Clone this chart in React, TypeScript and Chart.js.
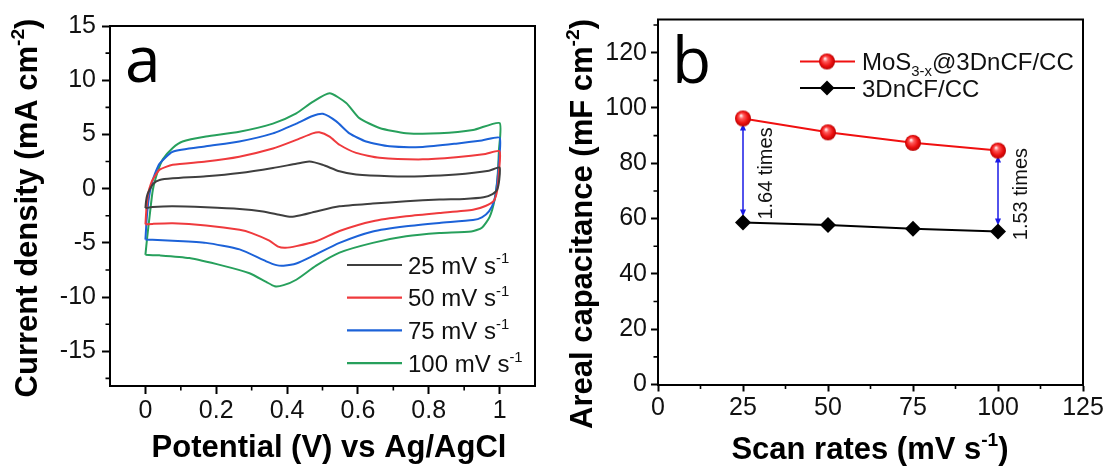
import React, { useEffect, useRef } from "react";
import { Chart, registerables } from "chart.js";

Chart.register(...registerables);

const FONT = '"Liberation Sans", Arial, Helvetica, sans-serif';
const LETTER_FONT = '"Open Sans", "Liberation Sans", sans-serif';

// ---------- Panel a: cyclic voltammograms, points are [potential V, current density mA cm-2]
const cv25: [number, number][] = [
  [0, -1.8], [0.002, -1.1], [0.006, -0.5], [0.012, -0.1], [0.022, 0.45], [0.04, 0.8], [0.077, 0.95],
  [0.171, 1.14], [0.266, 1.44], [0.36, 1.9], [0.426, 2.3], [0.463, 2.5], [0.5, 2.2], [0.548, 1.6],
  [0.595, 1.3], [0.689, 1.15], [0.783, 1.15], [0.877, 1.3], [0.97, 1.65], [1.0, 1.95],
  [0.999, 0.8], [0.993, -0.1], [0.98, -0.5], [0.955, -0.8], [0.9, -0.95], [0.83, -1.0], [0.736, -1.17],
  [0.642, -1.38], [0.548, -1.63], [0.482, -2.1], [0.435, -2.48], [0.411, -2.6], [0.378, -2.4],
  [0.332, -2.1], [0.266, -1.87], [0.171, -1.72], [0.077, -1.63], [0.02, -1.7], [0, -1.8],
];
const cv50: [number, number][] = [
  [0, -3.3], [0.003, -1.8], [0.008, -0.4], [0.015, 0.4], [0.022, 0.9], [0.04, 1.75], [0.077, 2.2],
  [0.171, 2.5], [0.265, 2.95], [0.36, 3.7], [0.426, 4.5], [0.472, 5.1], [0.491, 5.2], [0.52, 4.8],
  [0.548, 4.05], [0.595, 3.3], [0.661, 2.85], [0.783, 2.7], [0.877, 2.9], [0.96, 3.2], [1.0, 3.45],
  [0.998, 1.5], [0.993, -0.2], [0.984, -1.1], [0.96, -1.6], [0.925, -1.95], [0.83, -2.25], [0.736, -2.55],
  [0.642, -3.0], [0.548, -3.9], [0.482, -4.85], [0.426, -5.3], [0.395, -5.45], [0.375, -5.35],
  [0.35, -4.8], [0.3, -4.1], [0.266, -3.8], [0.171, -3.4], [0.077, -3.2], [0.02, -3.25], [0, -3.3],
];
const cv75: [number, number][] = [
  [0, -4.7], [0.004, -2.6], [0.01, -0.8], [0.018, 0.5], [0.026, 1.3], [0.04, 2.3], [0.077, 3.4],
  [0.171, 3.9], [0.265, 4.35], [0.36, 5.1], [0.426, 6.0], [0.472, 6.7], [0.501, 6.9], [0.539, 6.2],
  [0.576, 5.1], [0.623, 4.35], [0.689, 3.9], [0.783, 3.85], [0.877, 4.15], [0.95, 4.45], [1.0, 4.7],
  [0.998, 2.5], [0.993, 0.5], [0.985, -1.1], [0.97, -2.1], [0.95, -2.65], [0.925, -2.9], [0.83, -3.16],
  [0.736, -3.47], [0.642, -3.95], [0.548, -5.0], [0.473, -6.2], [0.426, -6.9], [0.39, -7.1],
  [0.37, -7.05], [0.341, -6.7], [0.266, -5.6], [0.171, -5.0], [0.077, -4.8], [0.02, -4.72], [0, -4.7],
];
const cv100: [number, number][] = [
  [0, -6.1], [0.005, -4.5], [0.012, -2.5], [0.021, -0.1], [0.035, 1.6], [0.049, 2.7], [0.077, 3.75],
  [0.105, 4.35], [0.171, 4.8], [0.265, 5.25], [0.36, 6.0], [0.426, 6.95], [0.472, 8.0], [0.52, 8.8],
  [0.567, 7.9], [0.604, 6.5], [0.661, 5.6], [0.736, 5.12], [0.83, 5.1], [0.925, 5.4], [1.0, 6.05],
  [0.998, 3.5], [0.994, 1.0], [0.986, -1.0], [0.972, -2.6], [0.95, -3.6], [0.92, -3.95], [0.83, -4.1],
  [0.736, -4.4], [0.642, -5.0], [0.548, -5.9], [0.482, -7.1], [0.426, -8.4], [0.39, -8.9], [0.365, -9.0],
  [0.341, -8.6], [0.294, -7.8], [0.218, -7.1], [0.124, -6.4], [0.04, -6.15], [0, -6.1],
];
const cvSeries = [cv25, cv50, cv75, cv100];
const cvRateLabels = ["25", "50", "75", "100"];
const cvColors = ["#3f3f3f", "#ef3a3d", "#1c62d8", "#27a05c"];
const potentialTicks = [0, 0.2, 0.4, 0.6, 0.8, 1];
const potentialMinor = [0.1, 0.3, 0.5, 0.7, 0.9];
const currentTicks = [15, 10, 5, 0, -5, -10, -15];
const currentMinor = [12.5, 7.5, 2.5, -2.5, -7.5, -12.5, -17.5];

// ---------- Panel b: areal capacitance vs scan rate
const scanRates = [25, 50, 75, 100];
const capMoS = [96.2, 91.2, 87.4, 84.6];
const capCF = [58.6, 57.7, 56.3, 55.3];
const ratioRates = [25, 100];
const ratioTexts = ["1.64 times", "1.53 times"];
const rateTicks = [0, 25, 50, 75, 100, 125];
const rateMinor = [12.5, 37.5, 62.5, 87.5, 112.5];
const capTicks = [0, 20, 40, 60, 80, 100, 120];
const capMinor = [10, 30, 50, 70, 90, 110, 130];

type Part = { t: string; sup?: boolean; sub?: boolean };

function drawRich(
  ctx: CanvasRenderingContext2D,
  parts: Part[],
  x: number,
  y: number,
  size: number,
  weight: string,
  align: "left" | "center"
) {
  ctx.textAlign = "left";
  ctx.textBaseline = "alphabetic";
  const sizes = parts.map((p) => (p.sup || p.sub ? size * 0.62 : size));
  const widths = parts.map((p, i) => {
    ctx.font = `${weight} ${sizes[i]}px ${FONT}`;
    return ctx.measureText(p.t).width;
  });
  const total = widths.reduce((a, b) => a + b, 0);
  let cx = align === "center" ? x - total / 2 : x;
  parts.forEach((p, i) => {
    ctx.font = `${weight} ${sizes[i]}px ${FONT}`;
    const dy = p.sup ? -size * 0.42 : p.sub ? size * 0.24 : 0;
    ctx.fillText(p.t, cx, y + dy);
    cx += widths[i];
  });
}

function drawFrameAndMinor(chart: any, xMinor: number[], yMinor: number[]) {
  const { ctx, chartArea: a, scales } = chart;
  ctx.save();
  ctx.strokeStyle = "#000";
  ctx.lineWidth = 2;
  ctx.beginPath();
  ctx.moveTo(a.left - 1, a.top);
  ctx.lineTo(a.right, a.top);
  ctx.lineTo(a.right, a.bottom + 1);
  ctx.stroke();
  ctx.lineWidth = 1.6;
  ctx.beginPath();
  xMinor.forEach((v) => {
    const px = scales.x.getPixelForValue(v);
    ctx.moveTo(px, a.bottom);
    ctx.lineTo(px, a.bottom + 4.5);
  });
  yMinor.forEach((v) => {
    const py = scales.y.getPixelForValue(v);
    ctx.moveTo(a.left, py);
    ctx.lineTo(a.left - 4.5, py);
  });
  ctx.stroke();
  ctx.restore();
}

function makeSphere(): HTMLCanvasElement {
  const c = document.createElement("canvas");
  c.width = 18;
  c.height = 18;
  const g = c.getContext("2d")!;
  const grad = g.createRadialGradient(7, 6, 0.5, 9, 9, 8.5);
  grad.addColorStop(0, "#ffe6e6");
  grad.addColorStop(0.25, "#ff5a5a");
  grad.addColorStop(0.65, "#ec1010");
  grad.addColorStop(1, "#b00000");
  g.fillStyle = grad;
  g.beginPath();
  g.arc(9, 9, 8, 0, Math.PI * 2);
  g.fill();
  return c;
}

const axisFont = { family: FONT, size: 25 };

function CVChart() {
  const ref = useRef<HTMLCanvasElement>(null);
  useEffect(() => {
    const plugin = {
      id: "cvDecor",
      afterDraw(chart: any) {
        const { ctx, chartArea: a } = chart;
        drawFrameAndMinor(chart, potentialMinor, currentMinor);
        ctx.save();
        ctx.fillStyle = "#000";
        drawRich(ctx, [{ t: "Potential (V) vs Ag/AgCl" }], 329, 457, 31, "bold", "center");
        ctx.save();
        ctx.translate(37, 208);
        ctx.rotate(-Math.PI / 2);
        drawRich(ctx, [{ t: "Current density (mA cm" }, { t: "-2", sup: true }, { t: ")" }], 0, 0, 31, "bold", "center");
        ctx.restore();
        ctx.font = `64px ${LETTER_FONT}`;
        ctx.textAlign = "left";
        ctx.textBaseline = "alphabetic";
        ctx.fillText("a", a.left + 15, 82);
        // legend
        cvRateLabels.forEach((lab, i) => {
          const base = 273.5 + i * 32.7;
          ctx.strokeStyle = cvColors[i];
          ctx.lineWidth = 2.2;
          ctx.beginPath();
          ctx.moveTo(347, base - 8.5);
          ctx.lineTo(402, base - 8.5);
          ctx.stroke();
          ctx.fillStyle = "#111";
          drawRich(ctx, [{ t: `${lab} mV s` }, { t: "-1", sup: true }], 408, base, 24, "normal", "left");
        });
        ctx.restore();
      },
    };
    const chart = new Chart(ref.current!, {
      type: "scatter",
      data: {
        datasets: cvSeries.map((s, i) => ({
          label: `${cvRateLabels[i]} mV s-1`,
          data: s.map(([x, y]) => ({ x, y })),
          showLine: true,
          borderColor: cvColors[i],
          backgroundColor: cvColors[i],
          borderWidth: 2,
          pointRadius: 0,
          tension: 0.2,
        })),
      },
      options: {
        animation: false,
        responsive: false,
        maintainAspectRatio: false,
        layout: { padding: { left: 0, top: 26, right: 20, bottom: 0 } },
        plugins: { legend: { display: false }, tooltip: { enabled: false } },
        scales: {
          x: {
            type: "linear",
            min: -0.1,
            max: 1.1,
            afterBuildTicks: (s: any) => {
              s.ticks = potentialTicks.map((v) => ({ value: v }));
            },
            afterFit: (s: any) => {
              s.height = 80;
            },
            ticks: { font: axisFont, color: "#111", padding: 2, callback: (v: any) => String(Number(v)) },
            grid: { drawOnChartArea: false, drawTicks: true, tickLength: 8, tickWidth: 2, tickColor: "#000" },
            border: { display: true, color: "#000", width: 2 },
          },
          y: {
            type: "linear",
            min: -18.2,
            max: 15,
            afterBuildTicks: (s: any) => {
              s.ticks = currentTicks.map((v) => ({ value: v }));
            },
            afterFit: (s: any) => {
              s.width = 110;
            },
            ticks: { font: axisFont, color: "#111", padding: 6, callback: (v: any) => String(Number(v)) },
            grid: { drawOnChartArea: false, drawTicks: true, tickLength: 8, tickWidth: 2, tickColor: "#000" },
            border: { display: true, color: "#000", width: 2 },
          },
        },
      },
      plugins: [plugin],
    } as any);
    return () => chart.destroy();
  }, []);
  return (
    <canvas
      ref={ref}
      width={555}
      height={466}
      style={{ position: "absolute", left: 0, top: 0, width: 555, height: 466 }}
    />
  );
}

const B_LEFT = 555;

function CapChart() {
  const ref = useRef<HTMLCanvasElement>(null);
  useEffect(() => {
    const sphere = makeSphere();
    const plugin = {
      id: "capDecor",
      beforeDatasetsDraw(chart: any) {
        const { ctx, scales } = chart;
        ctx.save();
        ctx.strokeStyle = "#1a1ae6";
        ctx.fillStyle = "#1a1ae6";
        ctx.lineWidth = 1.5;
        ratioRates.forEach((r) => {
          const i = scanRates.indexOf(r);
          const px = scales.x.getPixelForValue(r);
          const yTop = scales.y.getPixelForValue(capMoS[i]) + 5;
          const yBot = scales.y.getPixelForValue(capCF[i]) - 6;
          ctx.beginPath();
          ctx.moveTo(px, yTop + 5);
          ctx.lineTo(px, yBot - 5);
          ctx.stroke();
          ctx.beginPath();
          ctx.moveTo(px, yTop);
          ctx.lineTo(px - 3, yTop + 7);
          ctx.lineTo(px + 3, yTop + 7);
          ctx.closePath();
          ctx.fill();
          ctx.beginPath();
          ctx.moveTo(px, yBot);
          ctx.lineTo(px - 3, yBot - 7);
          ctx.lineTo(px + 3, yBot - 7);
          ctx.closePath();
          ctx.fill();
        });
        ctx.restore();
      },
      afterDraw(chart: any) {
        const { ctx, scales } = chart;
        drawFrameAndMinor(chart, rateMinor, capMinor);
        ctx.save();
        ctx.fillStyle = "#111";
        ratioRates.forEach((r, k) => {
          const i = scanRates.indexOf(r);
          const px = scales.x.getPixelForValue(r) + 23;
          const py = scales.y.getPixelForValue((capMoS[i] + capCF[i]) / 2) + 3;
          ctx.save();
          ctx.translate(px, py);
          ctx.rotate(-Math.PI / 2);
          ctx.font = `20px ${FONT}`;
          ctx.textAlign = "center";
          ctx.textBaseline = "middle";
          ctx.fillText(ratioTexts[k], 0, 0);
          ctx.restore();
        });
        ctx.fillStyle = "#000";
        drawRich(ctx, [{ t: "Scan rates (mV s" }, { t: "-1", sup: true }, { t: ")" }], 870 - B_LEFT, 459, 31, "bold", "center");
        ctx.save();
        ctx.translate(592 - B_LEFT, 224);
        ctx.rotate(-Math.PI / 2);
        drawRich(ctx, [{ t: "Areal capacitance (mF cm" }, { t: "-2", sup: true }, { t: ")" }], 0, 0, 31, "bold", "center");
        ctx.restore();
        ctx.font = `64px ${LETTER_FONT}`;
        ctx.textAlign = "left";
        ctx.textBaseline = "alphabetic";
        ctx.fillText("b", 672 - B_LEFT, 83);
        // legend
        const rows = [
          { parts: [{ t: "MoS" }, { t: "3-x", sub: true }, { t: "@3DnCF/CC" }] as Part[], color: "#f01010", base: 70 },
          { parts: [{ t: "3DnCF/CC" }] as Part[], color: "#000", base: 96.5 },
        ];
        rows.forEach((row, k) => {
          const cy = row.base - 8.5;
          ctx.strokeStyle = row.color;
          ctx.lineWidth = 2;
          ctx.beginPath();
          ctx.moveTo(800 - B_LEFT, cy);
          ctx.lineTo(855 - B_LEFT, cy);
          ctx.stroke();
          if (k === 0) {
            ctx.drawImage(sphere, 827 - B_LEFT - 9, cy - 9);
          } else {
            ctx.fillStyle = "#000";
            ctx.beginPath();
            ctx.moveTo(827 - B_LEFT, cy - 7.5);
            ctx.lineTo(827 - B_LEFT + 7.5, cy);
            ctx.lineTo(827 - B_LEFT, cy + 7.5);
            ctx.lineTo(827 - B_LEFT - 7.5, cy);
            ctx.closePath();
            ctx.fill();
          }
          ctx.fillStyle = "#111";
          drawRich(ctx, row.parts, 862 - B_LEFT, row.base, 24, "normal", "left");
        });
        ctx.restore();
      },
    };
    const chart = new Chart(ref.current!, {
      type: "scatter",
      data: {
        datasets: [
          {
            label: "3DnCF/CC",
            data: scanRates.map((x, i) => ({ x, y: capCF[i] })),
            showLine: true,
            borderColor: "#000",
            backgroundColor: "#000",
            borderWidth: 2,
            pointStyle: "rectRot",
            pointRadius: 8,
            pointBorderWidth: 0,
          },
          {
            label: "MoS3-x@3DnCF/CC",
            data: scanRates.map((x, i) => ({ x, y: capMoS[i] })),
            showLine: true,
            borderColor: "#f01010",
            backgroundColor: "#f01010",
            borderWidth: 2,
            pointStyle: sphere,
            pointRadius: 8,
          },
        ],
      },
      options: {
        animation: false,
        responsive: false,
        maintainAspectRatio: false,
        layout: { padding: { left: 0, top: 19.5, right: 26, bottom: 0 } },
        plugins: { legend: { display: false }, tooltip: { enabled: false } },
        scales: {
          x: {
            type: "linear",
            min: 0,
            max: 125,
            afterBuildTicks: (s: any) => {
              s.ticks = rateTicks.map((v) => ({ value: v }));
            },
            afterFit: (s: any) => {
              s.height = 81.5;
            },
            ticks: { font: axisFont, color: "#111", padding: 2, callback: (v: any) => String(Number(v)) },
            grid: { drawOnChartArea: false, drawTicks: true, tickLength: 7, tickWidth: 2, tickColor: "#000" },
            border: { display: true, color: "#000", width: 2 },
          },
          y: {
            type: "linear",
            min: 0,
            max: 132,
            afterBuildTicks: (s: any) => {
              s.ticks = capTicks.map((v) => ({ value: v }));
            },
            afterFit: (s: any) => {
              s.width = 103;
            },
            ticks: { font: axisFont, color: "#111", padding: 4, callback: (v: any) => String(Number(v)) },
            grid: { drawOnChartArea: false, drawTicks: true, tickLength: 7, tickWidth: 2, tickColor: "#000" },
            border: { display: true, color: "#000", width: 2 },
          },
        },
      },
      plugins: [plugin],
    } as any);
    return () => chart.destroy();
  }, []);
  return (
    <canvas
      ref={ref}
      width={554}
      height={466}
      style={{ position: "absolute", left: B_LEFT, top: 0, width: 554, height: 466 }}
    />
  );
}

export default function App() {
  return (
    <div style={{ position: "absolute", left: 0, top: 0, width: 1109, height: 466, background: "#fff" }}>
      <CVChart />
      <CapChart />
    </div>
  );
}
